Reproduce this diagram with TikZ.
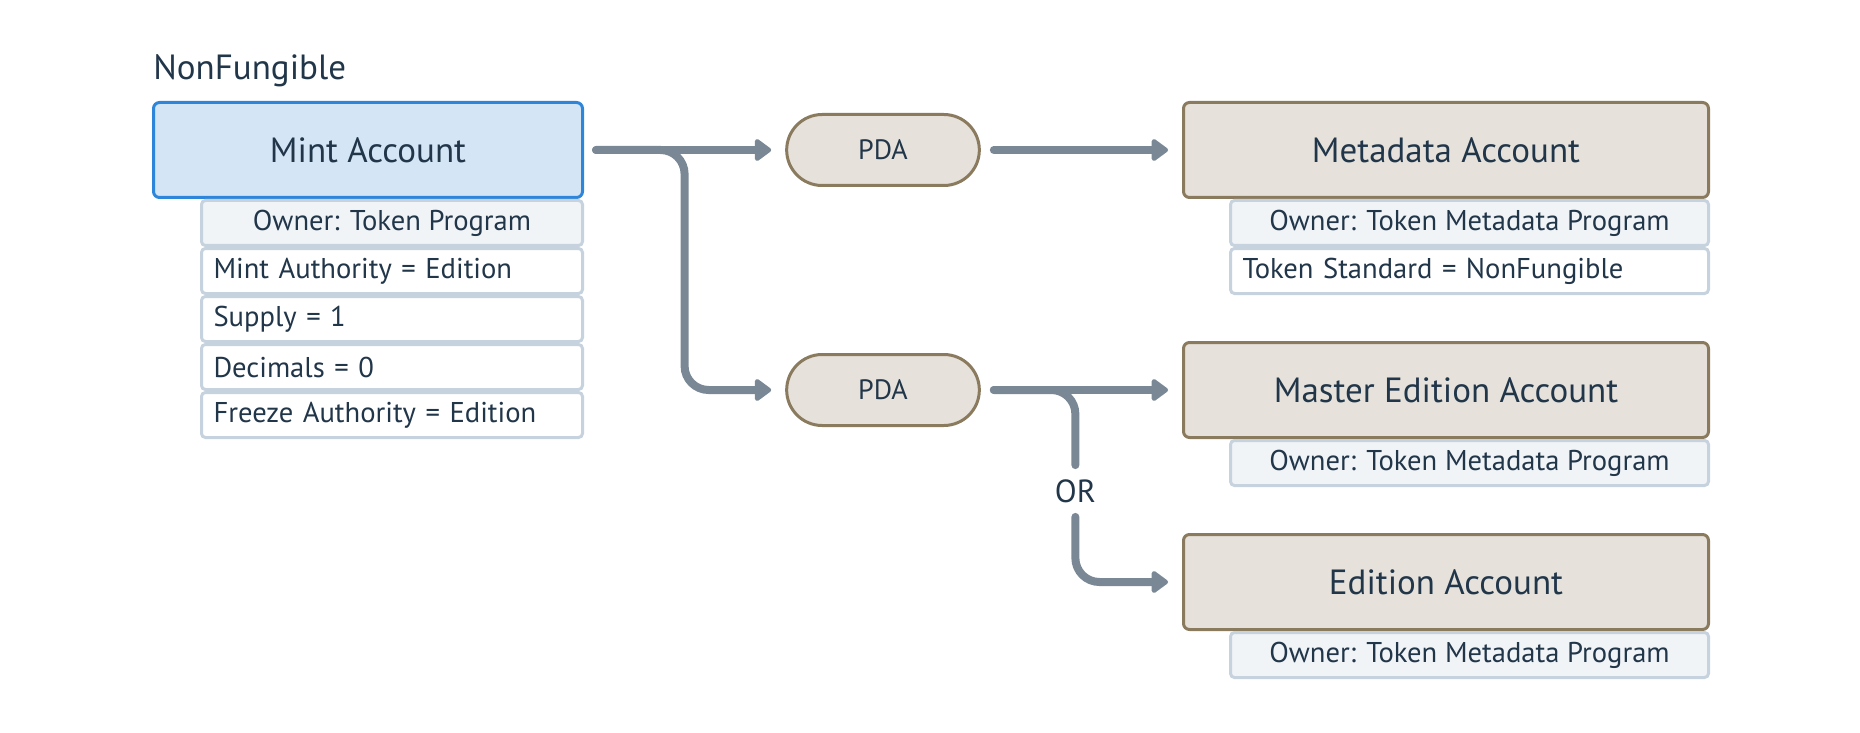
\documentclass[tikz,border=0pt]{standalone}
\usepackage{fontspec}
\setmainfont{PT Sans}
\usetikzlibrary{positioning,arrows.meta,shapes.misc,calc}

\definecolor{ink}{HTML}{22364A}
\definecolor{mintline}{HTML}{2E86DB}
\definecolor{mintfill}{HTML}{D4E5F6}
\definecolor{acctline}{HTML}{8A7A5E}
\definecolor{acctfill}{HTML}{E6E2DB}
\definecolor{rowline}{HTML}{C6D2DD}
\definecolor{ownerfill}{HTML}{F1F4F7}
\definecolor{wire}{HTML}{7A8896}

\tikzset{
  mintbox/.style={rectangle, rounded corners=3pt, draw=mintline, fill=mintfill,
    line width=1.5pt, minimum width=214.5pt, minimum height=47.5pt,
    text=ink, font=\fontsize{17.5}{20}\selectfont},
  acctbox/.style={rectangle, rounded corners=3pt, draw=acctline, fill=acctfill,
    line width=1.5pt, minimum width=262.5pt, minimum height=47.5pt,
    text=ink, font=\fontsize{17.5}{20}\selectfont},
  pdabox/.style={rounded rectangle, draw=acctline, fill=acctfill,
    line width=1.5pt, minimum width=103pt, minimum height=35.5pt,
    text=ink, font=\fontsize{14}{16}\selectfont},
  ownerrow/.style={rectangle, rounded corners=2pt, draw=rowline, fill=ownerfill,
    line width=1.5pt, minimum height=22.5pt, inner ysep=0pt,
    text=ink, font=\fontsize{14.3}{16}\selectfont},
  fieldrow/.style={ownerrow, fill=white, align=left, inner xsep=6pt},
  wire/.style={draw=wire, line width=4pt, line cap=round, rounded corners=12pt,
    -{Triangle[length=9pt,width=12.5pt,round]}},
}

\begin{document}
\begin{tikzpicture}[x=0.5pt,y=-0.5pt]
  \useasboundingbox (0,0) rectangle (1860,733);

  % Mint account and its fields
  \node[mintbox] (mint) at (368,150) {Mint Account};
  \node[anchor=base west, inner sep=0pt, text=ink,
    font=\fontsize{17.5}{20}\selectfont] (kind) at (153,80) {NonFungible};
  \node[ownerrow, minimum width=190.5pt, anchor=north east] (mintOwner)
    at (mint.south east) {Owner: Token Program};
  \node[fieldrow, text width=178.5pt, below=0pt of mintOwner] (mintAuth) {Mint Authority = Edition};
  \node[fieldrow, text width=178.5pt, below=0pt of mintAuth] (supply) {Supply = 1};
  \node[fieldrow, text width=178.5pt, below=0pt of supply] (decimals) {Decimals = 0};
  \node[fieldrow, text width=178.5pt, below=0pt of decimals] (freeze) {Freeze Authority = Edition};

  % PDAs
  \node[pdabox] (pdaMeta) at (883,150) {PDA};
  \node[pdabox] (pdaEdition) at (883,390) {PDA};

  % Metadata account
  \node[acctbox] (meta) at (1446,150) {Metadata Account};
  \node[ownerrow, minimum width=239pt, anchor=north east] (metaOwner)
    at (meta.south east) {Owner: Token Metadata Program};
  \node[fieldrow, text width=227pt, below=0pt of metaOwner] (standard) {Token Standard = NonFungible};

  % Edition accounts
  \node[acctbox] (master) at (1446,390) {Master Edition Account};
  \node[ownerrow, minimum width=239pt, anchor=north east] (masterOwner)
    at (master.south east) {Owner: Token Metadata Program};
  \node[acctbox] (edition) at (1446,582) {Edition Account};
  \node[ownerrow, minimum width=239pt, anchor=north east] (editionOwner)
    at (edition.south east) {Owner: Token Metadata Program};

  % Connections
  \coordinate (split1) at ($(mint.east)!0.5!(pdaMeta.west)$);
  \coordinate (split2) at ($(pdaEdition.east)!0.47!(master.west)$);
  \node[inner sep=0pt, minimum height=25.5pt, text=ink,
    font=\fontsize{16}{18}\selectfont] (or) at (split2 |- 0,491) {OR};

  \draw[wire] ([xshift=6pt]mint.east) -- ([xshift=-7pt]pdaMeta.west);
  \draw[wire] ([xshift=6pt]mint.east) -- (split1) |- ([xshift=-7pt]pdaEdition.west);
  \draw[wire] ([xshift=6.5pt]pdaMeta.east) -- ([xshift=-7pt]meta.west);
  \draw[wire] ([xshift=6.5pt]pdaEdition.east) -- ([xshift=-7pt]master.west);
  \draw[wire, -] ([xshift=6.5pt]pdaEdition.east) -- (split2) -- (or.north);
  \draw[wire] (or.south) |- ([xshift=-7pt]edition.west);
\end{tikzpicture}
\end{document}
